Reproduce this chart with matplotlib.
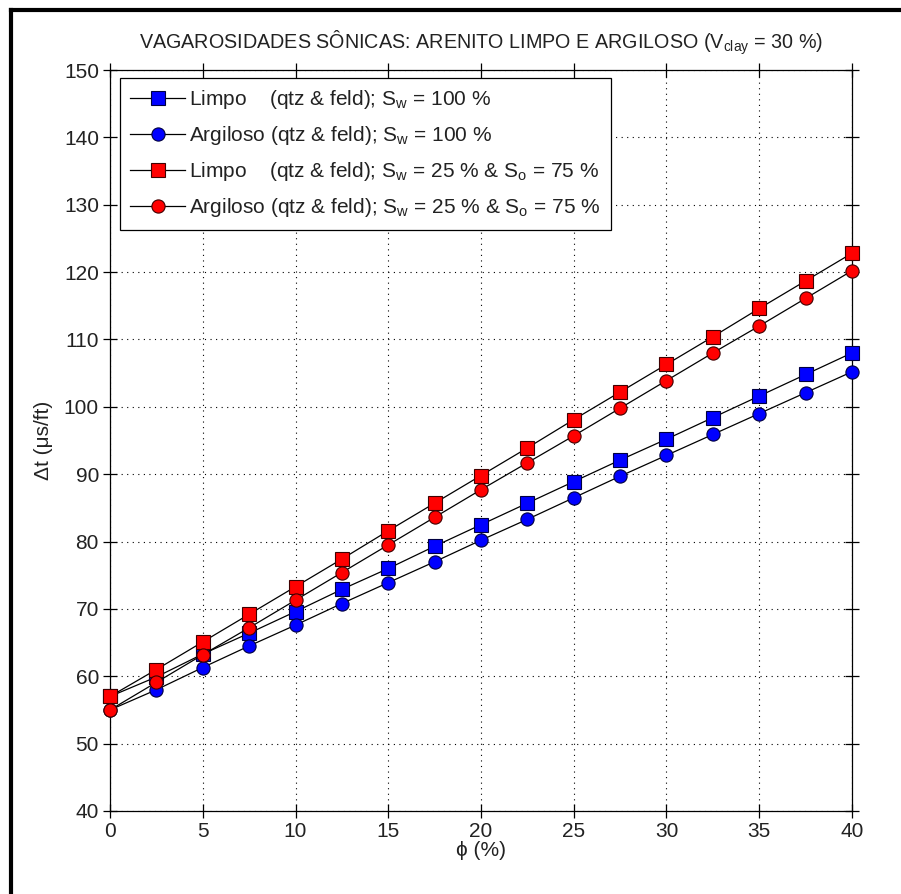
import numpy as np
import matplotlib
matplotlib.use("Agg")
import matplotlib.pyplot as plt
from matplotlib.lines import Line2D

plt.rcParams['font.family'] = ['Liberation Sans Narrow', 'Liberation Sans', 'DejaVu Sans']
plt.rcParams['mathtext.fontset'] = 'custom'
plt.rcParams['mathtext.rm'] = 'Liberation Sans'
plt.rcParams['mathtext.it'] = 'Liberation Sans'
plt.rcParams['mathtext.default'] = 'regular'

# porosity (%)
phi = [0, 2.5, 5, 7.5, 10, 12.5, 15, 17.5, 20, 22.5, 25, 27.5, 30, 32.5, 35, 37.5, 40]

# sonic slowness (us/ft)
limpo_sw100 = [57.0, 59.9, 63.3, 66.4, 69.6, 72.9, 76.0, 79.3, 82.5, 85.7, 88.9, 92.1, 95.2, 98.4, 101.6, 104.8, 108.0]
argil_sw100 = [55.0, 58.0, 61.3, 64.5, 67.6, 70.8, 73.9, 77.0, 80.2, 83.3, 86.5, 89.7, 92.8, 95.9, 99.0, 102.1, 105.2]
limpo_sw25 = [57.0, 61.0, 65.1, 69.2, 73.3, 77.4, 81.6, 85.7, 89.8, 93.9, 98.1, 102.2, 106.3, 110.4, 114.6, 118.7, 122.8]
argil_sw25 = [55.0, 59.1, 63.2, 67.2, 71.3, 75.4, 79.5, 83.6, 87.7, 91.7, 95.7, 99.8, 103.9, 108.0, 112.0, 116.1, 120.2]

labels = [
    r'Limpo    (qtz & feld); S$_w$ = 100 %',
    r'Argiloso (qtz & feld); S$_w$ = 100 %',
    r'Limpo    (qtz & feld); S$_w$ = 25 % & S$_o$ = 75 %',
    r'Argiloso (qtz & feld); S$_w$ = 25 % & S$_o$ = 75 %',
]

fig = plt.figure(figsize=(9.01, 8.94), dpi=100)
ax = fig.add_axes([110 / 901, 1 - 811 / 894, 742 / 901, 741 / 894])

series = [
    (limpo_sw100, 's', 'blue'),
    (argil_sw100, 'o', 'blue'),
    (limpo_sw25, 's', 'red'),
    (argil_sw25, 'o', 'red'),
]
for (y, m, c), lab in zip(series, labels):
    ax.plot(phi, y, color='black', lw=0.9, marker=m, markersize=9.5,
            markerfacecolor=c, markeredgecolor='#400000' if c == 'red' else '#000040',
            markeredgewidth=0.8, label=lab, clip_on=False, zorder=3)

ax.set_xlim(0, 40)
ax.set_ylim(40, 150)
ax.set_xticks(np.arange(0, 41, 5))
ax.set_yticks(np.arange(40, 151, 10))
ax.grid(True, color='black', linestyle=(0, (1, 4)), linewidth=0.8)
ax.tick_params(direction='inout', length=10, width=0.9, labelsize=15,
               top=True, right=True, pad=3, labelcolor='#222222')
for s in ax.spines.values():
    s.set_linewidth(0.9)

ax.set_xlabel(r'ϕ (%)', fontsize=15, labelpad=0, color='#222222')
ax.set_ylabel(r'Δt (μs/ft)', fontsize=15, labelpad=8, color='#222222')
ax.set_title(r'VAGAROSIDADES SÔNICAS: ARENITO LIMPO E ARGILOSO (V$_{clay}$ = 30 %)',
             fontsize=14.2, pad=15, color='#222222')

leg = ax.legend(loc='upper left', bbox_to_anchor=(10 / 742, 733 / 741), borderaxespad=0,
                fontsize=15, fancybox=False, framealpha=1, edgecolor='black',
                handlelength=2.6, handletextpad=0.2, labelspacing=0.62,
                borderpad=0.5)
leg.get_frame().set_linewidth(0.9)
for t in leg.get_texts():
    t.set_color('#222222')

# thick frame visible on left and top
fig.add_artist(Line2D([10.5 / 901, 10.5 / 901], [0, 1 - 10 / 894], color='black',
                      lw=3, transform=fig.transFigure, solid_capstyle='projecting'))
fig.add_artist(Line2D([10.5 / 901, 1], [1 - 10 / 894, 1 - 10 / 894], color='black',
                      lw=3, transform=fig.transFigure, solid_capstyle='projecting'))

fig.savefig('out.png', dpi=100)
